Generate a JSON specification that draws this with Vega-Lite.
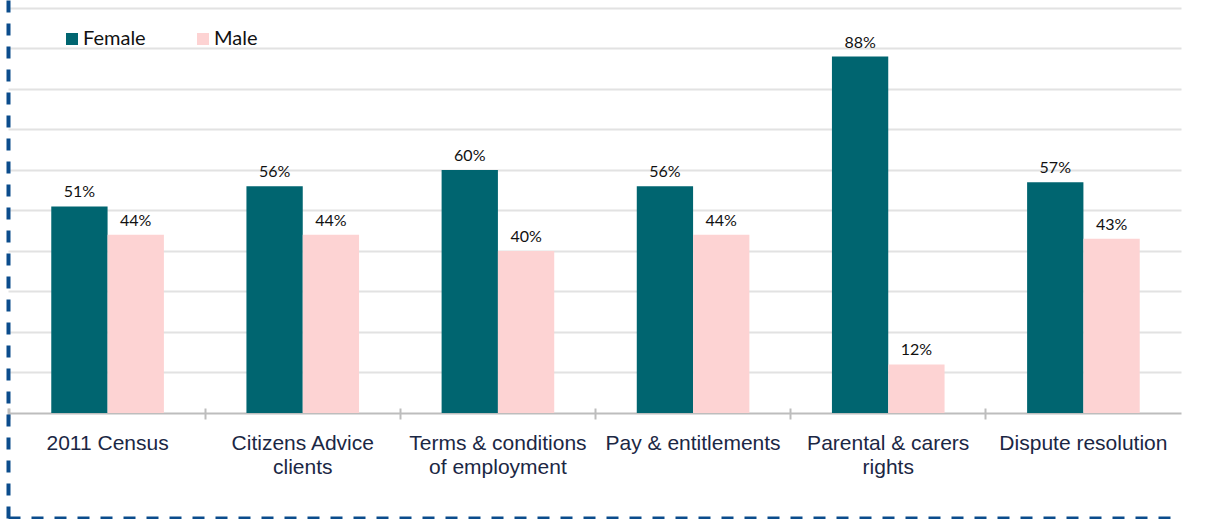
{
  "$schema": "https://vega.github.io/schema/vega-lite/v6.json",
  "width": 1173,
  "height": 518,
  "autosize": {"type": "none"},
  "padding": {"left": 8, "top": 0, "right": 26, "bottom": 1},
  "background": "white",
  "config": {"view": {"stroke": null}},
  "data": {
    "values": [
      {"category": "2011 Census", "gender": "Female", "value": 51, "label": "51%"},
      {"category": "2011 Census", "gender": "Male", "value": 44, "label": "44%"},
      {"category": "Citizens Advice|clients", "gender": "Female", "value": 56, "label": "56%"},
      {"category": "Citizens Advice|clients", "gender": "Male", "value": 44, "label": "44%"},
      {"category": "Terms & conditions|of employment", "gender": "Female", "value": 60, "label": "60%"},
      {"category": "Terms & conditions|of employment", "gender": "Male", "value": 40, "label": "40%"},
      {"category": "Pay & entitlements", "gender": "Female", "value": 56, "label": "56%"},
      {"category": "Pay & entitlements", "gender": "Male", "value": 44, "label": "44%"},
      {"category": "Parental & carers|rights", "gender": "Female", "value": 88, "label": "88%"},
      {"category": "Parental & carers|rights", "gender": "Male", "value": 12, "label": "12%"},
      {"category": "Dispute resolution", "gender": "Female", "value": 57, "label": "57%"},
      {"category": "Dispute resolution", "gender": "Male", "value": 43, "label": "43%"}
    ]
  },
  "encoding": {
    "xOffset": {"field": "gender", "type": "nominal", "sort": ["Female", "Male"], "scale": {"paddingInner": 0, "paddingOuter": 0.733}},
    "y": {
      "field": "value", "type": "quantitative", "stack": null,
      "scale": {"domain": [-25.926, 101.975], "nice": false, "zero": false},
      "axis": {
        "title": null, "orient": "left", "offset": 0,
        "domain": true, "domainColor": "#0b4c8c", "domainWidth": 4, "domainDash": [12, 11],
        "ticks": false, "labels": false,
        "grid": true, "gridColor": "#e2e2e2", "gridWidth": 2,
        "values": [10, 20, 30, 40, 50, 60, 70, 80, 90, 100]
      }
    }
  },
  "layer": [
    {
      "mark": {"type": "bar"},
      "encoding": {
        "x": {
          "field": "category", "type": "nominal", "sort": null,
          "scale": {"paddingInner": 0, "paddingOuter": 0.00512, "align": 1},
          "axis": {
            "title": null, "orient": "bottom", "offset": -105, "grid": false,
            "domainColor": "#bdbdbd", "domainWidth": 2,
            "tickColor": "#bdbdbd", "tickWidth": 2, "tickSize": 6,
            "bandPosition": 0, "tickExtra": true,
            "labelAngle": 0, "labelFont": "Liberation Sans", "labelFontSize": 21,
            "labelColor": "#1b2744", "labelPadding": 13, "labelLineHeight": 24,
            "labelExpr": "split(datum.label, '|')",
            "labelLimit": 0, "labelOverlap": false, "labelBound": false
          }
        },
        "color": {
          "field": "gender", "type": "nominal", "sort": ["Female", "Male"],
          "scale": {"range": ["#006570", "#fdd3d3"]},
          "legend": {
            "title": null, "orient": "none", "legendX": 54, "legendY": 29,
            "direction": "horizontal", "symbolType": "square", "symbolSize": 144,
            "symbolStrokeWidth": 0, "symbolOpacity": 1,
            "labelFont": "Lato", "labelFontSize": 20, "labelColor": "#111111",
            "labelOffset": 1, "columnPadding": 47, "padding": 0
          }
        }
      }
    },
    {
      "mark": {"type": "bar", "opacity": 0},
      "encoding": {
        "x": {
          "field": "category", "type": "nominal", "sort": null,
          "scale": {"paddingInner": 0, "paddingOuter": 0.00512, "align": 1},
          "axis": {
            "title": null, "orient": "top", "offset": -413, "grid": false,
            "domain": false, "labels": false,
            "tickColor": "#bdbdbd", "tickWidth": 2, "tickSize": 5,
            "bandPosition": 0, "tickExtra": true
          }
        }
      }
    },
    {
      "mark": {"type": "text", "baseline": "bottom", "dy": -6, "font": "Lato", "fontSize": 16, "fill": "#111111"},
      "encoding": {
        "x": {
          "field": "category", "type": "nominal", "sort": null,
          "scale": {"paddingInner": 0, "paddingOuter": 0.00512, "align": 1},
          "axis": {
            "title": null, "orient": "bottom", "offset": 0, "grid": false,
            "domain": true, "domainColor": "#0b4c8c", "domainWidth": 4, "domainDash": [12, 11],
            "ticks": false, "labels": false
          }
        },
        "text": {"field": "label", "type": "nominal"}
      }
    }
  ],
  "resolve": {"axis": {"x": "independent"}}
}
